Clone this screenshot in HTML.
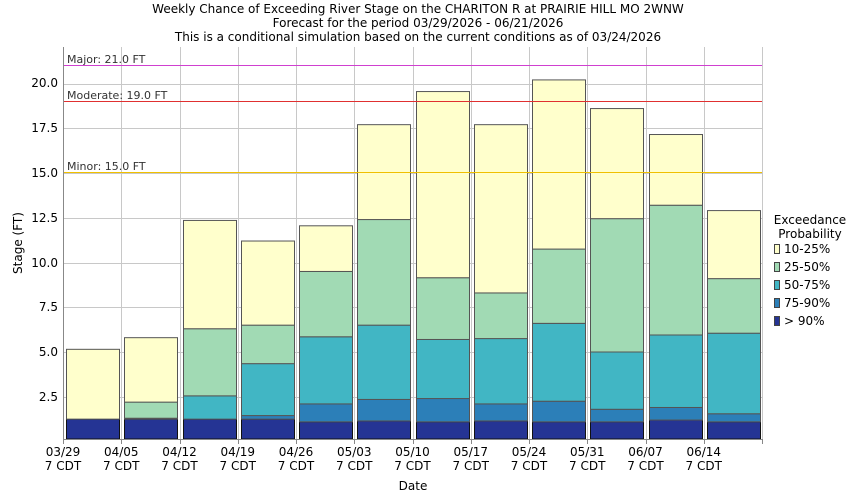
<!DOCTYPE html>
<html><head><meta charset="utf-8"><style>
body{margin:0;background:#fff}
svg{display:block;font-family:"DejaVu Sans","Liberation Sans",sans-serif}
</style></head><body>
<svg id="s" width="850" height="500" viewBox="0 0 850 500">
<rect width="850" height="500" fill="#fff"/>
<g font-size="12" fill="#000" text-anchor="middle">
<text x="418" y="13">Weekly Chance of Exceeding River Stage on the CHARITON R at PRAIRIE HILL MO 2WNW</text>
<text x="418" y="27">Forecast for the period 03/29/2026 - 06/21/2026</text>
<text x="418" y="41">This is a conditional simulation based on the current conditions as of 03/24/2026</text>
</g>
<g id="grid" stroke="#c8c8c8" stroke-width="1"></g>
<g id="bars"></g>
<line x1="63" y1="65.5" x2="762" y2="65.5" stroke="#d040d0"/>
<line x1="63" y1="101.5" x2="762" y2="101.5" stroke="#e03030"/>
<line x1="63" y1="172.5" x2="762" y2="172.5" stroke="#f0c000"/>
<g font-size="11" fill="#333">
<text x="67" y="63">Major: 21.0 FT</text>
<text x="67" y="99">Moderate: 19.0 FT</text>
<text x="67" y="170">Minor: 15.0 FT</text>
</g>
<line x1="63.5" y1="47" x2="63.5" y2="440" stroke="#888"/>
<line x1="63" y1="439.5" x2="762" y2="439.5" stroke="#888"/>
<g font-size="12" fill="#000" text-anchor="end">
<text x="58" y="401">2.5</text><text x="58" y="356">5.0</text><text x="58" y="311">7.5</text>
<text x="58" y="267">10.0</text><text x="58" y="222">12.5</text><text x="58" y="177">15.0</text>
<text x="58" y="132">17.5</text><text x="58" y="87">20.0</text>
</g>
<g font-size="12" fill="#000" text-anchor="middle" id="xl"></g>
<text x="413" y="490" font-size="12" text-anchor="middle">Date</text>
<text transform="translate(22,243) rotate(-90)" font-size="12" text-anchor="middle">Stage (FT)</text>
<g font-size="12" fill="#000">
<text x="810" y="224" text-anchor="middle">Exceedance</text>
<text x="810" y="238" text-anchor="middle">Probability</text>
<rect x="774.5" y="244.5" width="5" height="9" fill="#ffffcc" stroke="#444"/><text x="784" y="253">10-25%</text>
<rect x="774.5" y="262.5" width="5" height="9" fill="#a1dab4" stroke="#444"/><text x="784" y="271">25-50%</text>
<rect x="774.5" y="280.5" width="5" height="9" fill="#41b6c4" stroke="#444"/><text x="784" y="289">50-75%</text>
<rect x="774.5" y="298.5" width="5" height="9" fill="#2c7fb8" stroke="#444"/><text x="784" y="307">75-90%</text>
<rect x="774.5" y="316.5" width="5" height="9" fill="#253494" stroke="#444"/><text x="784" y="325">&gt; 90%</text>
</g>
</svg>
<script>
var ns="http://www.w3.org/2000/svg";
function el(p,t,a){var e=document.createElementNS(ns,t);for(var k in a)e.setAttribute(k,a[k]);p.appendChild(e);return e;}
function Y(v){return 441.5-17.9*v;}
var g=document.getElementById('grid');
[2.5,5,7.5,10,12.5,15,17.5,20].forEach(function(v){var y=Math.round(Y(v))+0.5;el(g,'line',{x1:63,x2:762,y1:y,y2:y});});
var xs=[];for(var i=0;i<=12;i++)xs.push(63+i*58.25);
xs.forEach(function(x){var xx=Math.round(x)+0.5;el(g,'line',{x1:xx,x2:xx,y1:47,y2:439});el(g,'line',{x1:xx,x2:xx,y1:439,y2:444,stroke:'#888'});});
var data=[[1.25,1.25,1.25,1.25,5.15],[1.25,1.3,1.3,2.2,5.8],[1.25,1.25,2.55,6.3,12.35],[1.25,1.45,4.35,6.5,11.2],
[1.1,2.1,5.85,9.5,12.05],[1.15,2.35,6.5,12.4,17.7],[1.1,2.4,5.7,9.15,19.55],[1.15,2.1,5.75,8.3,17.7],
[1.1,2.25,6.6,10.75,20.2],[1.1,1.8,5.0,12.45,18.6],[1.2,1.9,5.95,13.2,17.15],[1.1,1.55,6.05,9.1,12.9]];
var cols=['#253494','#2c7fb8','#41b6c4','#a1dab4','#ffffcc'];
var b=document.getElementById('bars');
data.forEach(function(d,i){var x=Math.round(xs[i])+3.5,w=53;var lo=439;
 for(var j=0;j<5;j++){var hi=Y(d[j]);if(lo-hi>0.3){el(b,'rect',{x:x,y:hi,width:w,height:lo-hi,fill:cols[j],stroke:j==0?'#111':'#555','stroke-width':1});}lo=Math.min(lo,hi);}
});
var labs=['03/29','04/05','04/12','04/19','04/26','05/03','05/10','05/17','05/24','05/31','06/07','06/14'];
var xl=document.getElementById('xl');
labs.forEach(function(l,i){var t=el(xl,'text',{x:xs[i],y:456});t.textContent=l;var t2=el(xl,'text',{x:xs[i],y:470});t2.textContent='7 CDT';});
</script>
</body></html>
